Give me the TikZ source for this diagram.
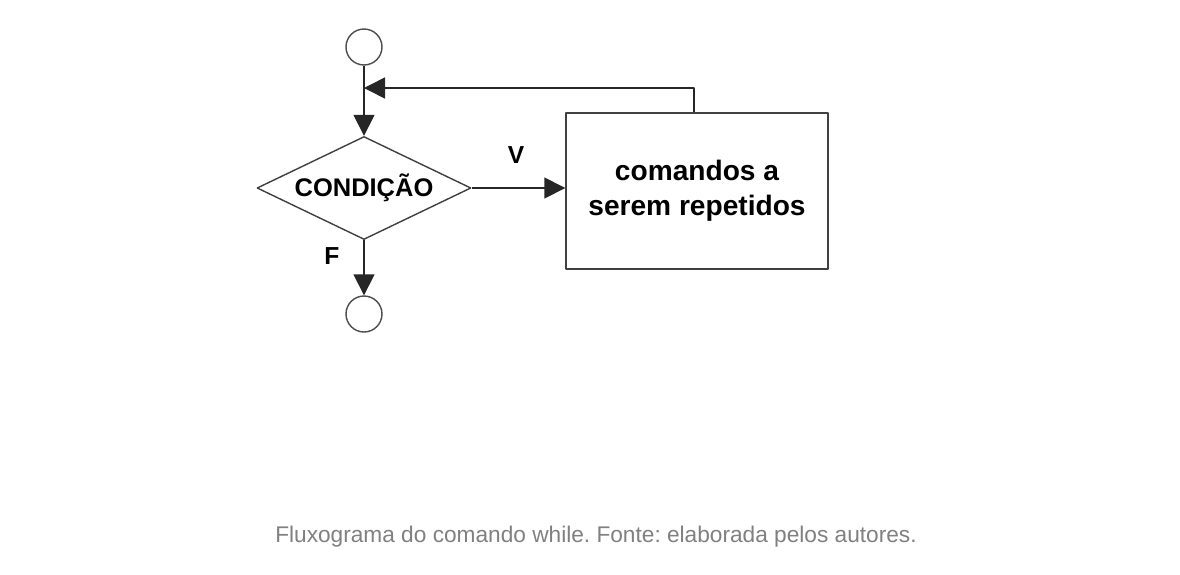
\documentclass[tikz,border=0pt]{standalone}
\usepackage{fontspec}
\setmainfont{Liberation Sans}
\usepackage{tikz}
\usetikzlibrary{arrows.meta, shapes.geometric, positioning, calc}
\definecolor{captiongray}{HTML}{808080}
\frenchspacing

\begin{document}
\begin{tikzpicture}[>={Triangle[length=4.2mm,width=4.2mm]}, line join=bevel,
        line/.style={draw=black!85, line width=0.9pt},
        terminal/.style={circle, draw=black!70, line width=0.8pt, minimum size=0.72cm, inner sep=0pt},
        decision/.style={diamond, draw=black!75, line width=0.8pt, aspect=2.08, inner sep=0pt,
                minimum width=4.28cm, minimum height=2.06cm, font=\fontsize{14.5}{16}\selectfont\bfseries},
        process/.style={rectangle, draw=black!75, line width=0.8pt, minimum width=5.24cm,
                minimum height=3.12cm, align=center, font=\fontsize{16}{20}\selectfont\bfseries},
        flag/.style={font=\fontsize{14}{16}\selectfont\bfseries}]
        \useasboundingbox (0,0) rectangle (23.6,-11.48);
        % flowchart
        \node[terminal] (start) at (7.28,-0.94) {};
        \node[decision] (cond) at (7.28,-3.76) {CONDIÇÃO};
        \node[process] (body) at (13.94,-3.82) {comandos a\\serem repetidos};
        \node[terminal] (stop) at (7.28,-6.28) {};
        \coordinate (back) at (7.28,-1.76);
        \draw[line, ->] (start) -- (cond);
        \draw[line, ->] (cond.east) -- (cond.east -| body.west);
        \draw[line, ->] ([xshift=-0.06cm]body.north) |- (back);
        \draw[line, ->] (cond) -- (stop);
        \node[flag] (vlabel) at (10.32,-3.1) {V};
        \node[flag] (flabel) at (6.64,-5.12) {F};
        % caption
        \node[anchor=base, text=captiongray, font=\fontsize{12.9}{15}\selectfont] (caption) at (11.92,-10.84)
                {Fluxograma do comando while. Fonte: elaborada pelos autores.};
      \end{tikzpicture}
\end{document}
